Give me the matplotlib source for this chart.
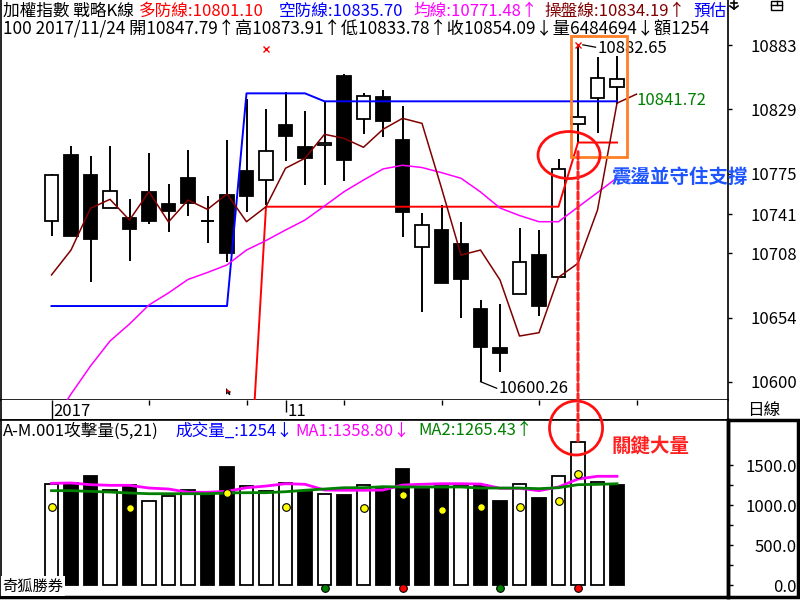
import matplotlib
matplotlib.use("Agg")
import matplotlib.pyplot as plt
from matplotlib.patches import Rectangle, Ellipse, ConnectionPatch
import numpy as np

plt.rcParams['font.family'] = ['Noto Sans CJK TC', 'DejaVu Sans']
plt.rcParams['axes.unicode_minus'] = False

# ---------------- data ----------------
opens = [10735.2, 10790.6, 10773.8, 10745.9, 10737.5, 10759.6, 10749.5, 10771.3, 10735.2, 10757.0,
         10777.2, 10769.4, 10815.8, 10797.3, 10798.8, 10857.0, 10821.1, 10839.3, 10803.5, 10713.6,
         10727.6, 10715.9, 10661.3, 10628.6, 10673.6, 10706.6, 10687.9, 10816.4, 10838.2, 10847.79]
highs = [10774.5, 10798.2, 10789.8, 10798.2, 10753.7, 10792.3, 10766.3, 10794.8, 10756.2, 10803.2,
         10837.7, 10829.3, 10843.8, 10827.6, 10835.4, 10858.6, 10843.0, 10845.2, 10831.8, 10741.7,
         10748.6, 10734.4, 10668.9, 10665.5, 10729.3, 10727.6, 10787.3, 10882.65, 10873.2, 10873.91]
lows = [10722.6, 10722.9, 10684.2, 10745.9, 10701.9, 10732.4, 10726.2, 10739.7, 10716.5, 10701.0,
        10743.0, 10748.6, 10785.8, 10765.4, 10765.4, 10769.0, 10808.3, 10806.0, 10722.0, 10659.0,
        10683.4, 10654.0, 10600.26, 10608.6, 10673.6, 10655.7, 10687.9, 10800.4, 10809.4, 10833.78]
closes = [10773.8, 10722.9, 10720.3, 10760.4, 10728.5, 10735.5, 10743.8, 10750.3, 10735.2, 10708.6,
          10756.4, 10794.0, 10806.8, 10788.4, 10800.4, 10786.7, 10840.2, 10819.4, 10743.0, 10731.8,
          10683.4, 10686.5, 10629.6, 10624.6, 10700.8, 10664.1, 10778.6, 10822.3, 10855.0, 10854.09]

volumes = [1262, 1270, 1362, 1187, 1250, 1050, 1112, 1187, 1150, 1475,
           1237, 1175, 1275, 1162, 1137, 1125, 1250, 1200, 1450, 1200,
           1237, 1237, 1250, 1050, 1262, 1087, 1362, 1790, 1287, 1254]
vol_ma1 = [1271, 1275, 1254, 1246, 1246, 1212, 1200, 1159, 1159, 1171,
           1216, 1237, 1266, 1259, 1187, 1184, 1184, 1187, 1250, 1259,
           1266, 1266, 1262, 1209, 1209, 1179, 1225, 1325, 1359, 1358.80]
vol_ma2 = [1179, 1179, 1170, 1162, 1150, 1141, 1141, 1141, 1141, 1150,
           1154, 1154, 1166, 1184, 1200, 1216, 1216, 1229, 1225, 1225,
           1225, 1225, 1212, 1212, 1212, 1204, 1216, 1254, 1258, 1265.43]
attack_idx = [0, 4, 9, 12, 16, 18, 20, 22, 24, 26, 27]
attack_val = [975, 962, 1154, 975, 962, 1125, 941, 979, 979, 1054, 1387]
signal_idx = [14, 18, 23, 27]
signal_colors = ['#008000', '#FF0000', '#008000', '#FF0000']
signal_level = -34

# 操盤線 (one extra projected point = 預估值)
trade_line = [10689.9, 10710.8, 10745.9, 10753.4, 10736.0, 10759.8, 10734.4, 10752.8, 10745.0, 10757.9,
              10734.6, 10747.2, 10779.5, 10787.9, 10808.0, 10804.6, 10797.1, 10812.2, 10821.4, 10817.2,
              10762.9, 10706.6, 10710.8, 10685.7, 10638.6, 10641.4, 10687.9, 10699.7, 10744.4, 10834.19,
              10841.72]
# 均線
avg_line = [10563.9, 10589.9, 10613.4, 10634.4, 10648.7, 10664.7, 10674.8, 10686.1, 10692.0, 10698.3,
            10710.8, 10718.8, 10727.6, 10736.0, 10747.8, 10759.8, 10769.6, 10778.9, 10782.0, 10780.1,
            10775.8, 10771.1, 10759.6, 10746.1, 10739.8, 10734.6, 10734.6, 10746.9, 10759.1, 10771.48]
nan = float('nan')
# 多防線
bull_line = [nan] * 10 + [10468.0] + [10747.2] * 16 + [10801.10] * 3
# 空防線
bear_line = [10663.8] * 10 + [10842.4] * 4 + [10835.70] * 16

price_ticks = [10883, 10829, 10775, 10741, 10708, 10654, 10600]
vol_ticks = [0, 500, 1000, 1500]
vol_minor = [250, 750, 1250]
date_major = [0, 12]
date_major_labels = ['2017', '11']
date_minor = [5, 10, 15, 20, 25, 30]

top_marks = [(11, 10879.6)]

header_row1 = [(3, '加權指數 戰略K線', 'black'), (139, '多防線:10801.10', '#FF0000'),
               (279, '空防線:10835.70', '#0000FF'), (413, '均線:10771.48↑', '#FF00FF'),
               (544, '操盤線:10834.19↑', '#800000'), (693, '預估值', '#0000FF')]
header_row2 = '100 2017/11/24 開10847.79↑高10873.91↑低10833.78↑收10854.09↓量6484694↓額1254'
vol_header = [(3, 'A-M.001攻擊量(5,21)', 'black'), (175, '成交量_:1254↓', '#0000FF'),
              (295, 'MA1:1358.80↓', '#FF00FF'), (418, 'MA2:1265.43↑', '#008000')]

# ---------------- layout ----------------
W, H = 800, 600
fig = plt.figure(figsize=(8, 6), dpi=100, facecolor='white')

def fx(px):
    return px / W

def fy(py):
    return 1 - py / H

XL = ((1 - 51.5) / 19.5, (728 - 51.5) / 19.5)

ax_main = fig.add_axes([fx(1), fy(400), fx(728) - fx(1), fy(0) - fy(400)])
ax_date = fig.add_axes([fx(1), fy(420), fx(728) - fx(1), 20 / H])
ax_vol = fig.add_axes([fx(1), fy(597), fx(728) - fx(1), 177 / H])

for ax in (ax_main, ax_date, ax_vol):
    ax.set_xlim(*XL)
    ax.set_facecolor('white')
    ax.set_xticks([])

ax_main.set_ylim(10584.88, 10920.79)
ax_vol.set_ylim(-150, 2062.5)
ax_date.set_ylim(0, 1)
ax_date.set_yticks([])

n = len(closes)
idx = np.arange(n)
o = np.array(opens); c = np.array(closes); h = np.array(highs); l = np.array(lows)

# ---------------- candles ----------------
ax_main.vlines(idx, l, h, color='black', lw=1.4, zorder=2)
up = c > o
dn = c < o
eq = c == o
bw = 0.7
ax_main.bar(idx[up], (c - o)[up], bottom=o[up], width=bw, color='white', edgecolor='black', lw=1.3, zorder=3)
ax_main.bar(idx[dn], (o - c)[dn], bottom=c[dn], width=bw, color='black', edgecolor='black', lw=1.3, zorder=3)
ax_main.hlines(c[eq], idx[eq] - bw / 2, idx[eq] + bw / 2, color='black', lw=1.4, zorder=3)

# ---------------- lines ----------------
ax_main.plot(idx, bear_line, color='#0000FF', lw=1.4, zorder=4)
ax_main.plot(idx, bull_line, color='#FF0000', lw=1.4, zorder=4)
ax_main.plot(idx, avg_line, color='#FF00FF', lw=1.1, zorder=4)
ax_main.plot(np.arange(len(trade_line)), trade_line, color='#800000', lw=1.1, zorder=5)

# extreme markers
ax_main.plot([27], [highs[27]], marker='x', color='#FF0000', ms=5, mew=1.0, zorder=6)
for (mi, mv) in top_marks:
    ax_main.plot([mi], [mv], marker='x', color='#FF0000', ms=5, mew=1.0, zorder=6)
ax_main.plot([27.25, 27.9], [highs[27] + 0.5, highs[27] - 1.5], color='black', lw=0.9, zorder=6)
ax_main.text(28.0, highs[27] - 2.5, '%.2f' % highs[27], fontsize=12, va='center', ha='left', zorder=6)
# low marker
ax_main.plot([22, 22.83], [lows[22], lows[22] - 5.5], color='black', lw=0.9, zorder=6)
ax_main.text(22.92, lows[22] - 5.5, '%.2f' % lows[22], fontsize=12, va='center', ha='left', zorder=6)
# projected value
ax_main.text(30.0, trade_line[-1] - 5.5, '%.2f' % trade_line[-1], fontsize=12, color='#008000',
             va='center', ha='left', zorder=6)

# cursor
cursor = [(0, 0), (0, -1.0), (0.28, -0.72), (0.5, -1.15), (0.65, -1.05), (0.45, -0.65), (0.8, -0.65)]
ax_main.plot([8.95], [10595], marker=cursor, color='#FF0000', mec='black', mew=0.6, ms=9, zorder=6)

# y-axis (price)
ax_main.yaxis.tick_right()
ax_main.set_yticks(price_ticks)
ax_main.set_yticklabels([str(t) for t in price_ticks])
ax_main.tick_params(axis='y', direction='out', length=3, width=1, pad=47, labelsize=12)
for lab in ax_main.get_yticklabels():
    lab.set_horizontalalignment('right')
ax_main.spines['top'].set_visible(False)
for s in ['left', 'right', 'bottom']:
    ax_main.spines[s].set_linewidth(1.2)

# header texts
def head(ax, px, py, s, color='black', size=12):
    ax.text(fx(px), fy(py), s, transform=fig.transFigure, color=color, fontsize=size,
            va='center', ha='left', clip_on=True, zorder=10)

for px, s, col in header_row1:
    head(ax_main, px, 11, s, col)
head(ax_main, 3, 29, header_row2, 'black', 12.4)

# annotations main
ax_main.add_patch(Rectangle((26.64, 10788.9), 2.87, 101.7, fill=False, ec='#FF7F27', lw=2.0,
                            zorder=7, clip_on=False))
ax_main.add_patch(Ellipse((26.54, 10790.6), 3.18, 39.5, fill=False, ec='#FF1010', lw=2.0, zorder=7))
fig.text(fx(612), fy(177), '震盪並守住支撐', color='#1F55FF', fontsize=14, fontweight='bold',
         va='center', ha='left', zorder=12)

# ---------------- date strip ----------------
ax_date.spines['top'].set_visible(False)
for s in ['left', 'right', 'bottom']:
    ax_date.spines[s].set_linewidth(1.2)
ax_date.vlines(date_minor, 0.75, 1.0, color='black', lw=1.0)
ax_date.vlines([date_major[0]], 0.0, 1.0, color='black', lw=1.0)
ax_date.vlines(date_major[1:], 0.4, 1.0, color='black', lw=1.0)
for mi, lab in zip(date_major, date_major_labels):
    ax_date.annotate(lab, xy=(mi, 0.45), xycoords='data', xytext=(1.5, 0), textcoords='offset points',
                     va='center', ha='left', fontsize=12)
fig.text(fx(764), fy(411), '日線', fontsize=12, ha='center', va='center')

# ---------------- volume ----------------
vup = np.array([True] + [closes[i] >= closes[i - 1] for i in range(1, n)])
v = np.array(volumes)
ax_vol.bar(idx[vup], v[vup], width=bw, color='white', edgecolor='black', lw=1.3, zorder=2)
ax_vol.bar(idx[~vup], v[~vup], width=bw, color='black', edgecolor='black', lw=1.3, zorder=2)
ax_vol.plot(idx, vol_ma1, color='#FF00FF', lw=2.0, zorder=3)
ax_vol.plot(idx, vol_ma2, color='#008000', lw=2.0, zorder=3)
ax_vol.plot(attack_idx, attack_val, 'o', mfc='#FFFF00', mec='black', ms=5.5, mew=0.8, zorder=4)
for si, col in zip(signal_idx, signal_colors):
    ax_vol.plot([si], [signal_level], 'o', mfc=col, mec='black', ms=5.5, mew=0.8, zorder=4,
                clip_on=False)

ax_vol.yaxis.tick_right()
ax_vol.set_yticks(vol_ticks)
ax_vol.set_yticklabels(['%.1f' % t for t in vol_ticks])
ax_vol.set_yticks(vol_minor, minor=True)
ax_vol.tick_params(axis='y', which='both', direction='out', length=3.5, width=1, pad=46, labelsize=12)
for lab in ax_vol.get_yticklabels():
    lab.set_horizontalalignment('right')
ax_vol.spines['top'].set_linewidth(1.2)
ax_vol.spines['left'].set_linewidth(1.2)
ax_vol.spines['right'].set_linewidth(2.5)
ax_vol.spines['bottom'].set_linewidth(2.5)

for px, s, col in vol_header:
    head(ax_vol, px, 431, s, col)

ax_vol.text(0.002, 0.015, '奇狐勝券', transform=ax_vol.transAxes, fontsize=11, ha='left', va='bottom',
            zorder=8, bbox=dict(facecolor='white', edgecolor='none', pad=1.0))

# volume annotations
ax_vol.add_patch(Ellipse((26.9, 1962.5), 2.72, 675, fill=False, ec='#FF1010', lw=2.0, zorder=7,
                         clip_on=False))
fig.text(fx(611), fy(447), '關鍵大量', color='#FF2020', fontsize=14, fontweight='bold',
         va='center', ha='left', zorder=12)

con = ConnectionPatch(xyA=(27, 10793.4), coordsA=ax_main.transData,
                      xyB=(27, volumes[27]), coordsB=ax_vol.transData,
                      color='#FF2020', lw=2.2, linestyle=(0, (2.3, 1.0)), zorder=9)
fig.add_artist(con)

# right panel box for volume
fig.add_artist(Rectangle((fx(728), fy(597)), fx(798) - fx(728), fy(420) - fy(597),
                         transform=fig.transFigure, fill=False, ec='black', lw=2.5))
# top-right icons (drawn as small shapes)
tf = fig.transFigure
fig.add_artist(plt.Line2D([fx(734), fx(734)], [fy(1), fy(9)], transform=tf, color='black', lw=1.2))
fig.add_artist(plt.Line2D([fx(731), fx(737)], [fy(3), fy(3)], transform=tf, color='black', lw=1.2))
fig.add_artist(plt.Line2D([fx(730), fx(734), fx(738)], [fy(6), fy(9), fy(6)], transform=tf,
                          color='black', lw=1.2))
fig.add_artist(Rectangle((fx(771), fy(10)), fx(11), 9 / H, transform=tf,
                         fill=False, ec='black', lw=1.0))
fig.add_artist(plt.Line2D([fx(771), fx(782)], [fy(5), fy(5)], transform=tf, color='black', lw=1.0))
fig.add_artist(plt.Line2D([fx(776.5), fx(776.5)], [fy(1), fy(5)], transform=tf, color='black', lw=1.0))

fig.savefig('out.png', dpi=100, facecolor='white')
